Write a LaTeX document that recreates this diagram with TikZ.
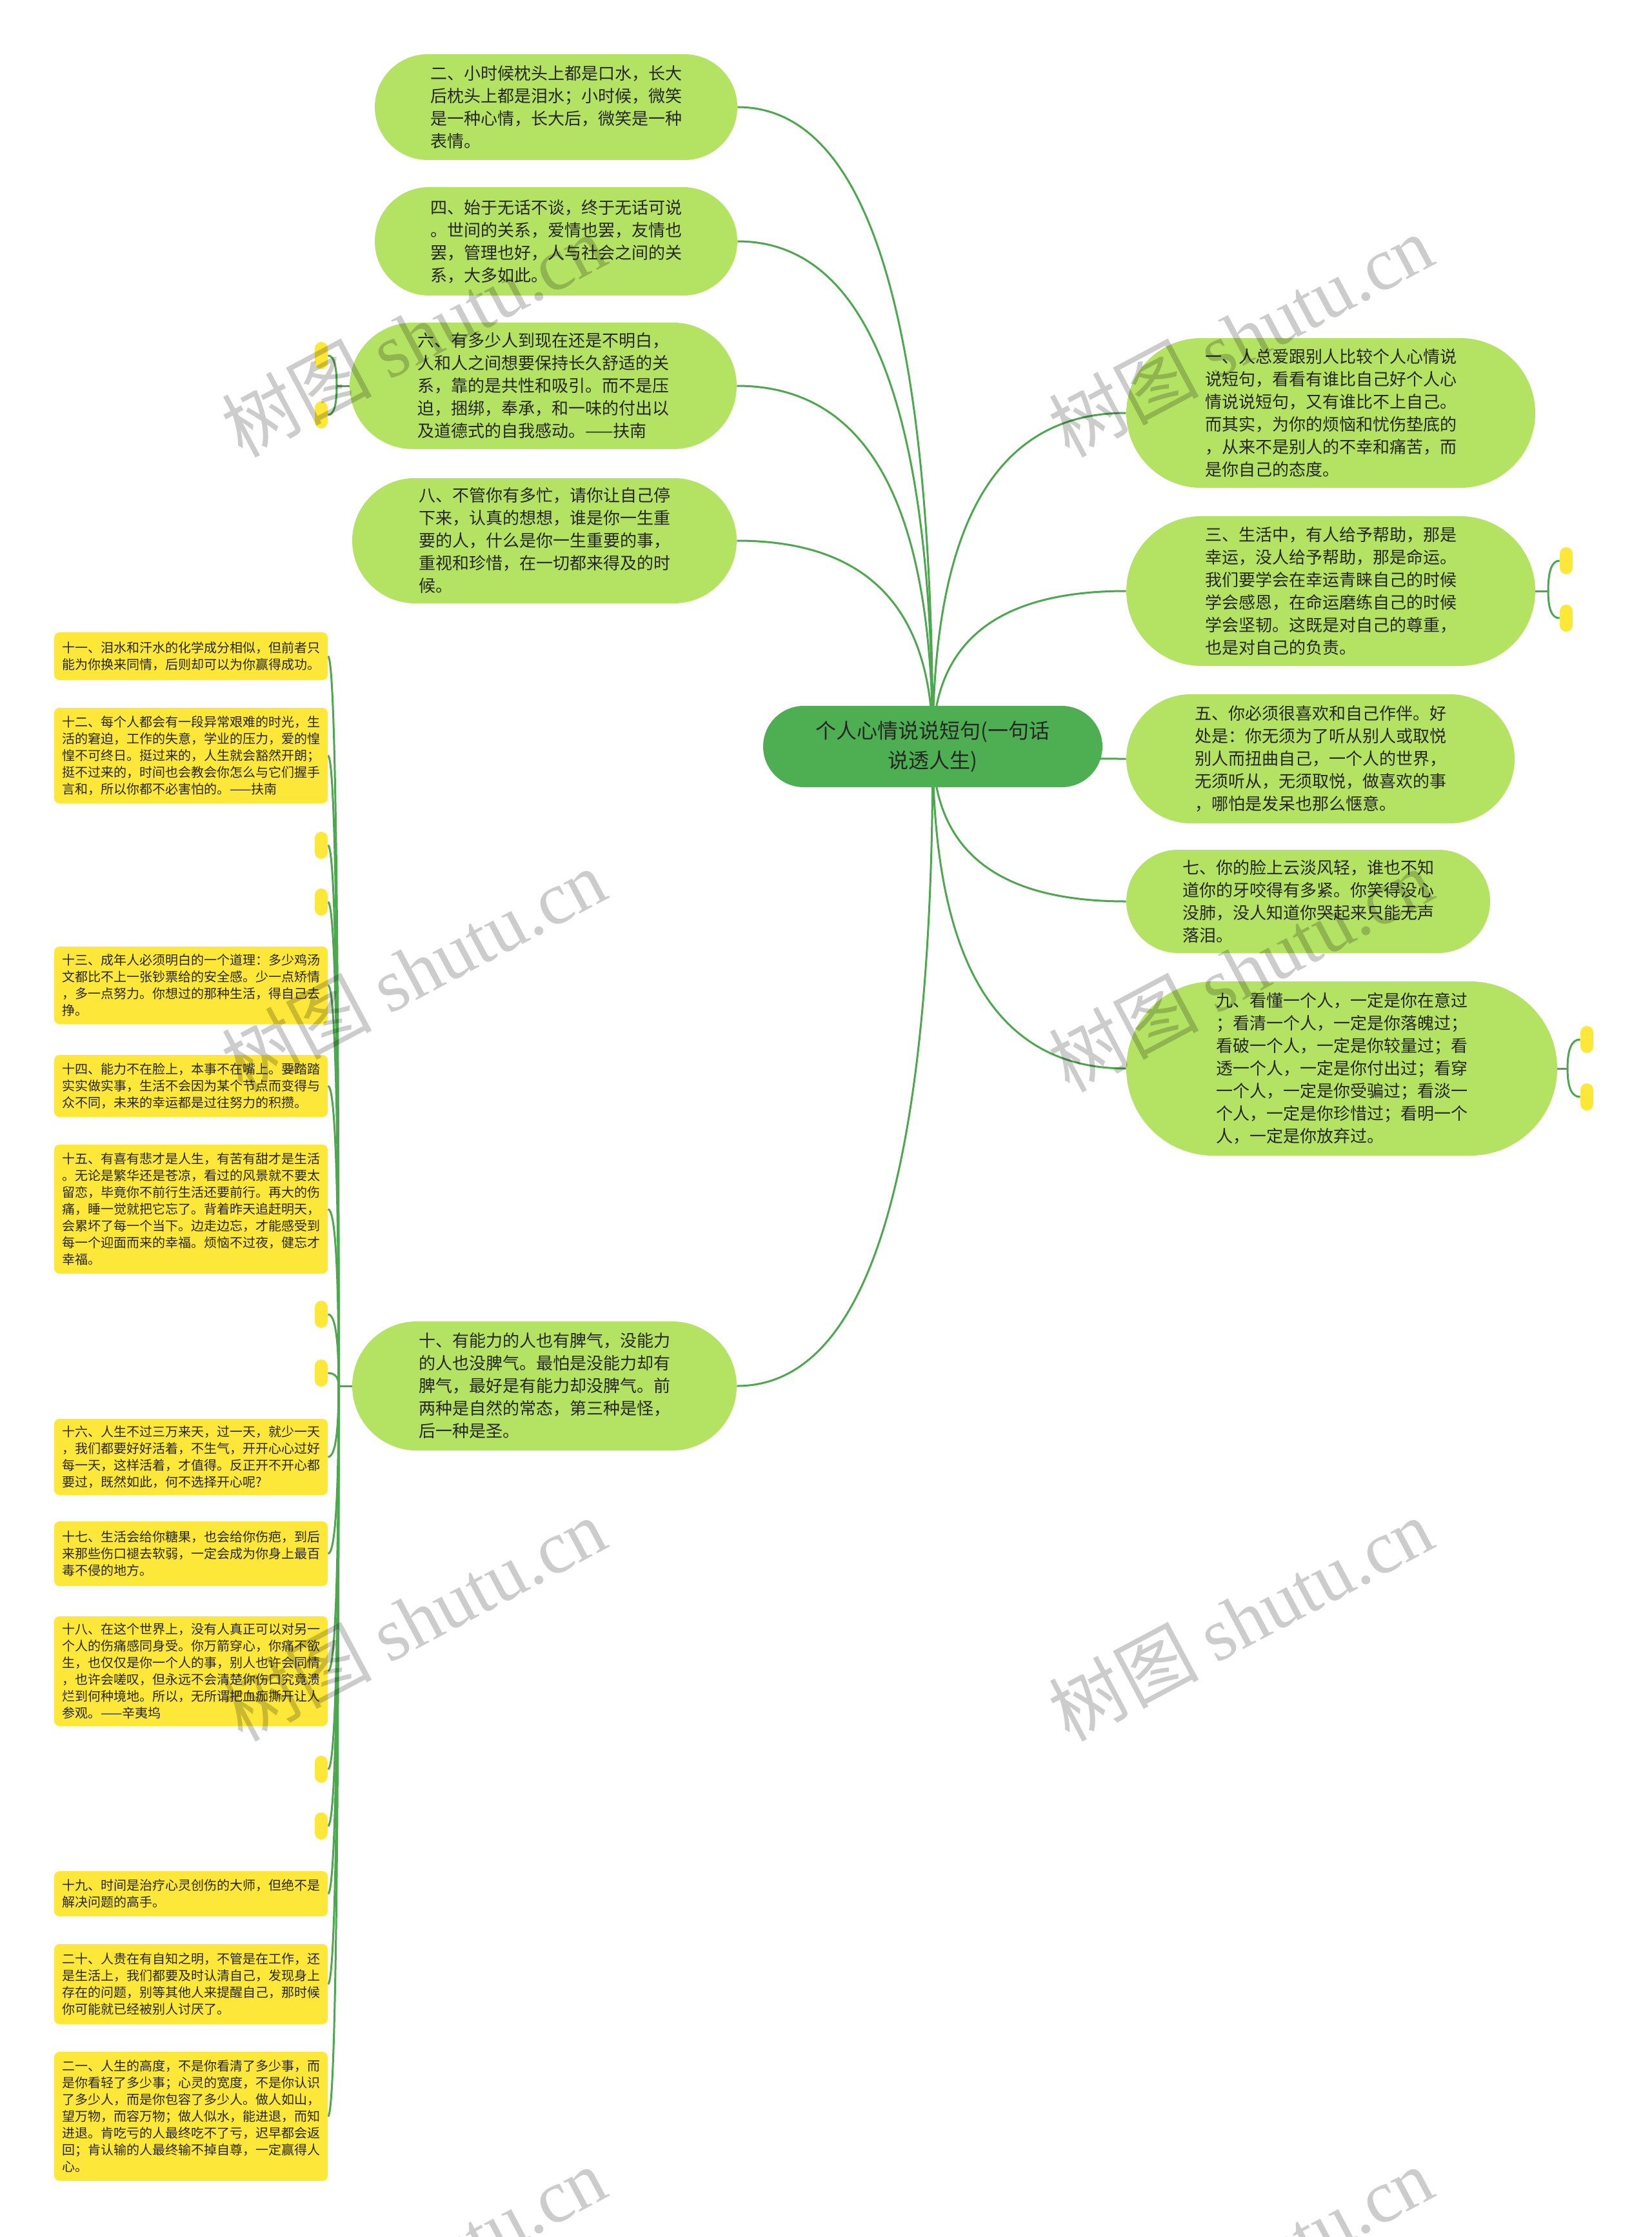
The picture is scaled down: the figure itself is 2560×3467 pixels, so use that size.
\documentclass[tikz,border=0pt]{standalone}
\usepackage{fontspec}
\setmainfont{Noto Sans CJK SC}
\newfontfamily\wmfont{Liberation Serif}
\usetikzlibrary{shapes.misc,calc}
\definecolor{rootgreen}{HTML}{4EAF52}
\definecolor{topicgreen}{HTML}{B4E364}
\definecolor{leafyellow}{HTML}{FDE83A}
\definecolor{linkgreen}{HTML}{4CA74F}
\definecolor{inkdark}{HTML}{262626}
\pgfdeclarelayer{background}
\pgfsetlayers{background,main}
\newcommand{\curvelink}[2]{\draw[conn] (#1) .. controls ($(#1)!0.67!(#1 |- #2)$) and ($(#2)!0.67!(#1 |- #2)$) .. (#2);}

\begin{document}
\begin{tikzpicture}[x=0.5pt, y=-0.5pt]
        \tikzstyle{root} = [rounded rectangle, fill=rootgreen, text=inkdark, align=center, inner xsep=0pt, font=\fontsize{16pt}{23pt}\selectfont]
        \tikzstyle{topic} = [rounded rectangle, fill=topicgreen, text=inkdark, align=left, inner xsep=0pt, font=\fontsize{13pt}{17.5pt}\selectfont]
        \tikzstyle{leaf} = [rectangle, rounded corners=4pt, fill=leafyellow, text=inkdark, align=left, minimum width=212pt, font=\fontsize{10pt}{13pt}\selectfont]
        \tikzstyle{blank} = [rectangle, rounded corners=5pt, fill=leafyellow, minimum width=10pt, minimum height=21pt, inner sep=0pt]
        \tikzstyle{conn} = [draw=linkgreen, line width=1.5pt]
        \tikzstyle{wm} = [rotate=28, text=black, text opacity=0.2, font=\fontsize{58pt}{58pt}\selectfont]

        \useasboundingbox (0,0) rectangle (2560,3467);

        \node [root, minimum width=263pt, minimum height=63pt] (root) at (1446,1157) {个人心情说说短句(一句话\\说透人生)};

        \node [topic, minimum width=281pt, minimum height=82pt]  (t2)  at (862,166)   {二、小时候枕头上都是口水，长大\\后枕头上都是泪水；小时候，微笑\\是一种心情，长大后，微笑是一种\\表情。};
        \node [topic, minimum width=281pt, minimum height=84pt]  (t4)  at (862,374)   {四、始于无话不谈，终于无话可说\\。世间的关系，爱情也罢，友情也\\罢，管理也好，人与社会之间的关\\系，大多如此。};
        \node [topic, minimum width=300pt, minimum height=98pt]  (t6)  at (842,598)   {六、有多少人到现在还是不明白，\\人和人之间想要保持长久舒适的关\\系，靠的是共性和吸引。而不是压\\迫，捆绑，奉承，和一味的付出以\\及道德式的自我感动。——扶南};
        \node [topic, minimum width=298pt, minimum height=97pt]  (t8)  at (844,838)   {八、不管你有多忙，请你让自己停\\下来，认真的想想，谁是你一生重\\要的人，什么是你一生重要的事，\\重视和珍惜，在一切都来得及的时\\候。};
        \node [topic, minimum width=298pt, minimum height=100pt] (t10) at (844,2148)  {十、有能力的人也有脾气，没能力\\的人也没脾气。最怕是没能力却有\\脾气，最好是有能力却没脾气。前\\两种是自然的常态，第三种是怪，\\后一种是圣。};
        \node [topic, minimum width=317pt, minimum height=116pt] (t1)  at (2063,640)  {一、人总爱跟别人比较个人心情说\\说短句，看看有谁比自己好个人心\\情说说短句，又有谁比不上自己。\\而其实，为你的烦恼和忧伤垫底的\\，从来不是别人的不幸和痛苦，而\\是你自己的态度。};
        \node [topic, minimum width=317pt, minimum height=116pt] (t3)  at (2063,916)  {三、生活中，有人给予帮助，那是\\幸运，没人给予帮助，那是命运。\\我们要学会在幸运青睐自己的时候\\学会感恩，在命运磨练自己的时候\\学会坚韧。这既是对自己的尊重，\\也是对自己的负责。};
        \node [topic, minimum width=301pt, minimum height=100pt] (t5)  at (2047,1176) {五、你必须很喜欢和自己作伴。好\\处是：你无须为了听从别人或取悦\\别人而扭曲自己，一个人的世界，\\无须听从，无须取悦，做喜欢的事\\，哪怕是发呆也那么惬意。};
        \node [topic, minimum width=282pt, minimum height=80pt]  (t7)  at (2028,1397) {七、你的脸上云淡风轻，谁也不知\\道你的牙咬得有多紧。你笑得没心\\没肺，没人知道你哭起来只能无声\\落泪。};
        \node [topic, minimum width=334pt, minimum height=135pt] (t9)  at (2080,1656) {九、看懂一个人，一定是你在意过\\；看清一个人，一定是你落魄过；\\看破一个人，一定是你较量过；看\\透一个人，一定是你付出过；看穿\\一个人，一定是你受骗过；看淡一\\个人，一定是你珍惜过；看明一个\\人，一定是你放弃过。};

        \node [leaf, minimum height=37pt]  (y11) at (296,1017) {十一、泪水和汗水的化学成分相似，但前者只\\能为你换来同情，后则却可以为你赢得成功。};
        \node [leaf, minimum height=74pt]  (y12) at (296,1171) {十二、每个人都会有一段异常艰难的时光，生\\活的窘迫，工作的失意，学业的压力，爱的惶\\惶不可终日。挺过来的，人生就会豁然开朗；\\挺不过来的，时间也会教会你怎么与它们握手\\言和，所以你都不必害怕的。——扶南};
        \node [leaf, minimum height=60pt]  (y13) at (296,1527) {十三、成年人必须明白的一个道理：多少鸡汤\\文都比不上一张钞票给的安全感。少一点矫情\\，多一点努力。你想过的那种生活，得自己去\\挣。};
        \node [leaf, minimum height=48pt]  (y14) at (296,1683) {十四、能力不在脸上，本事不在嘴上。要踏踏\\实实做实事，生活不会因为某个节点而变得与\\众不同，未来的幸运都是过往努力的积攒。};
        \node [leaf, minimum height=100pt] (y15) at (296,1874) {十五、有喜有悲才是人生，有苦有甜才是生活\\。无论是繁华还是苍凉，看过的风景就不要太\\留恋，毕竟你不前行生活还要前行。再大的伤\\痛，睡一觉就把它忘了。背着昨天追赶明天，\\会累坏了每一个当下。边走边忘，才能感受到\\每一个迎面而来的幸福。烦恼不过夜，健忘才\\幸福。};
        \node [leaf, minimum height=59pt]  (y16) at (296,2258) {十六、人生不过三万来天，过一天，就少一天\\，我们都要好好活着，不生气，开开心心过好\\每一天，这样活着，才值得。反正开不开心都\\要过，既然如此，何不选择开心呢?};
        \node [leaf, minimum height=50pt]  (y17) at (296,2408) {十七、生活会给你糖果，也会给你伤疤，到后\\来那些伤口褪去软弱，一定会成为你身上最百\\毒不侵的地方。};
        \node [leaf, minimum height=85pt]  (y18) at (296,2590) {十八、在这个世界上，没有人真正可以对另一\\个人的伤痛感同身受。你万箭穿心，你痛不欲\\生，也仅仅是你一个人的事，别人也许会同情\\，也许会嗟叹，但永远不会清楚你伤口究竟溃\\烂到何种境地。所以，无所谓把血痂撕开让人\\参观。——辛夷坞};
        \node [leaf, minimum height=35pt]  (y19) at (296,2935) {十九、时间是治疗心灵创伤的大师，但绝不是\\解决问题的高手。};
        \node [leaf, minimum height=62pt]  (y20) at (296,3075) {二十、人贵在有自知之明，不管是在工作，还\\是生活上，我们都要及时认清自己，发现身上\\存在的问题，别等其他人来提醒自己，那时候\\你可能就已经被别人讨厌了。};
        \node [leaf, minimum height=100pt] (y21) at (296,3280) {二一、人生的高度，不是你看清了多少事，而\\是你看轻了多少事；心灵的宽度，不是你认识\\了多少人，而是你包容了多少人。做人如山，\\望万物，而容万物；做人似水，能进退，而知\\进退。肯吃亏的人最终吃不了亏，迟早都会返\\回；肯认输的人最终输不掉自尊，一定赢得人\\心。};

        \node [blank] (e6a)  at (498,551)  {};
        \node [blank] (e6b)  at (498,643)  {};
        \node [blank] (e3a)  at (2428,869) {};
        \node [blank] (e3b)  at (2428,958) {};
        \node [blank] (e9a)  at (2460,1611) {};
        \node [blank] (e9b)  at (2460,1700) {};
        \node [blank] (e10a) at (498,1310) {};
        \node [blank] (e10b) at (498,1398) {};
        \node [blank] (e10c) at (498,2037) {};
        \node [blank] (e10d) at (498,2128) {};
        \node [blank] (e10e) at (498,2742) {};
        \node [blank] (e10f) at (498,2830) {};

        \coordinate (j6)  at (522,598);
        \coordinate (j3)  at (2400,916);
        \coordinate (j9)  at (2430,1656);
        \coordinate (j10) at (525,2148);

        \begin{pgfonlayer}{background}
        \fill [white] (0,0) rectangle (2560,3467);
        \curvelink{root.center}{t2.east}
        \curvelink{root.center}{t4.east}
        \curvelink{root.center}{t6.east}
        \curvelink{root.center}{t8.east}
        \curvelink{root.center}{t10.east}
        \curvelink{root.center}{t1.west}
        \curvelink{root.center}{t3.west}
        \curvelink{root.center}{t5.west}
        \curvelink{root.center}{t7.west}
        \curvelink{root.center}{t9.west}

        \draw [conn] (t6.west) -- (j6);
        \curvelink{j6}{e6a.east}
        \curvelink{j6}{e6b.east}
        \draw [conn] (t3.east) -- (j3);
        \curvelink{j3}{e3a.west}
        \curvelink{j3}{e3b.west}
        \draw [conn] (t9.east) -- (j9);
        \curvelink{j9}{e9a.west}
        \curvelink{j9}{e9b.west}

        \draw [conn] (t10.west) -- (j10);
        \curvelink{j10}{y11.east}
        \curvelink{j10}{y12.east}
        \curvelink{j10}{e10a.east}
        \curvelink{j10}{e10b.east}
        \curvelink{j10}{y13.east}
        \curvelink{j10}{y14.east}
        \curvelink{j10}{y15.east}
        \curvelink{j10}{e10c.east}
        \curvelink{j10}{e10d.east}
        \curvelink{j10}{y16.east}
        \curvelink{j10}{y17.east}
        \curvelink{j10}{y18.east}
        \curvelink{j10}{e10e.east}
        \curvelink{j10}{e10f.east}
        \curvelink{j10}{y19.east}
        \curvelink{j10}{y20.east}
        \curvelink{j10}{y21.east}
        \end{pgfonlayer}

        \node [wm] (w1) at (641,520)   {树图 {\wmfont shutu.cn}};
        \node [wm] (w2) at (1923,520)  {树图 {\wmfont shutu.cn}};
        \node [wm] (w3) at (641,1503)  {树图 {\wmfont shutu.cn}};
        \node [wm] (w4) at (1923,1503) {树图 {\wmfont shutu.cn}};
        \node [wm] (w5) at (641,2509)  {树图 {\wmfont shutu.cn}};
        \node [wm] (w6) at (1923,2509) {树图 {\wmfont shutu.cn}};
        \node [wm] (w7) at (641,3515)  {树图 {\wmfont shutu.cn}};
        \node [wm] (w8) at (1923,3515) {树图 {\wmfont shutu.cn}};
\end{tikzpicture}
\end{document}
